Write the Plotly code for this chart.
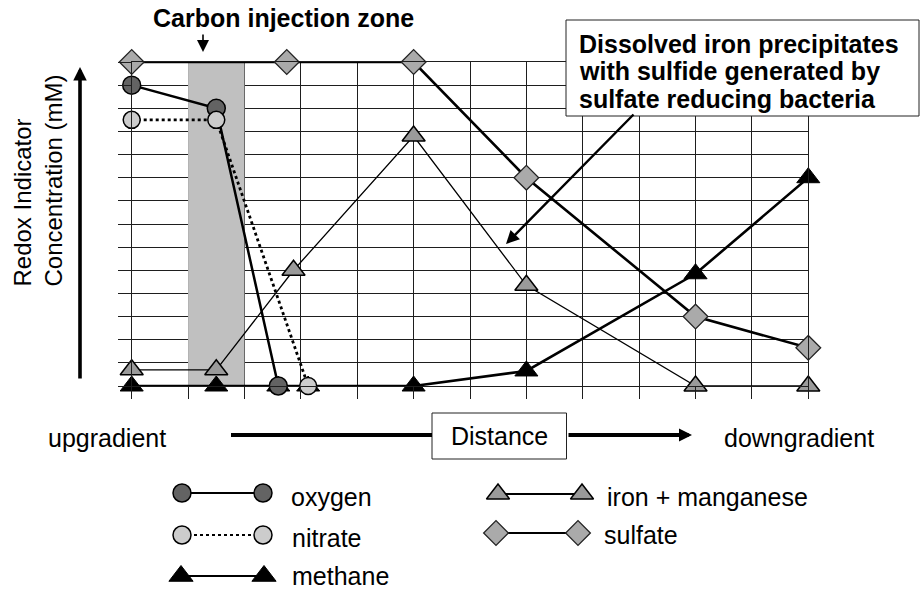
import plotly.graph_objects as go

W, H = 921, 593

# Sampling stations along the flow path (distance in grid units) and
# relative concentrations (grid units) of each redox indicator.
oxygen_x = [0, 1.5, 2.6]
oxygen_y = [13, 12, 0]

nitrate_x = [0, 1.5, 3.13]
nitrate_y = [11.5, 11.5, 0]

methane_x = [0, 1.5, 2.6, 3.13, 5, 7, 10, 12]
methane_y = [0, 0, 0, 0, 0, 0.65, 4.85, 9]

iron_x = [0, 1.5, 2.87, 5, 7, 10, 12]
iron_y = [0.7, 0.7, 5, 10.8, 4.35, 0, 0]

sulfate_x = [0, 2.75, 5, 7, 10, 12]
sulfate_y = [14, 14, 14, 9, 3, 1.65]

# Carbon injection zone (distance range)
zone_x = [1, 2]

X_MAX, Y_MAX = 12, 14

FONT = "Liberation Sans, Arial, sans-serif"
GRID = "#1e1e1e"


def fx(p):
    """pixel column -> paper x"""
    return p / W


def fy(p):
    """pixel row -> paper y"""
    return 1 - p / H


fig = go.Figure()

series = [
    dict(name="iron + manganese", x=iron_x, y=iron_y, line=dict(color="black", width=1.3),
         marker=dict(symbol="triangle-up", size=20, color="#9a9a9a", line=dict(color="black", width=1.5))),
    dict(name="methane", x=methane_x, y=methane_y, line=dict(color="black", width=2.6),
         marker=dict(symbol="triangle-up", size=20, color="black", line=dict(color="black", width=1))),
    dict(name="sulfate", x=sulfate_x, y=sulfate_y, line=dict(color="black", width=2.6),
         marker=dict(symbol="diamond", size=19, color="#aaaaaa", line=dict(color="#222222", width=1.3))),
    dict(name="oxygen", x=oxygen_x, y=oxygen_y, line=dict(color="black", width=2.5),
         marker=dict(symbol="circle", size=18, color="#636363", line=dict(color="black", width=1.5))),
    dict(name="nitrate", x=nitrate_x, y=nitrate_y, line=dict(color="black", width=2.8, dash="dot"),
         marker=dict(symbol="circle", size=17, color="#cccccc", line=dict(color="black", width=1.5))),
]
for s in series:
    fig.add_trace(go.Scatter(mode="lines+markers", cliponaxis=False, showlegend=False,
                             xaxis="x", yaxis="y", **s))

# Legend samples drawn on a pixel-space overlay axis
legend_rows = [
    dict(label="oxygen", xs=[182, 263], y=493, ty=497, tx=289,
         line=dict(color="black", width=2),
         marker=dict(symbol="circle", size=18, color="#636363", line=dict(color="black", width=1.5))),
    dict(label="nitrate", xs=[182, 263], y=535, ty=538, tx=290,
         line=dict(color="black", width=1.8, dash="dot"),
         marker=dict(symbol="circle", size=18, color="#cccccc", line=dict(color="black", width=1.5))),
    dict(label="methane", xs=[181, 264], y=576, ty=576, tx=290,
         line=dict(color="black", width=1.8),
         marker=dict(symbol="triangle-up", size=21, color="black", line=dict(color="black", width=1))),
    dict(label="iron + manganese", xs=[498, 582], y=494, ty=497, tx=605,
         line=dict(color="black", width=1.8),
         marker=dict(symbol="triangle-up", size=20, color="#9a9a9a", line=dict(color="black", width=1.5))),
    dict(label="sulfate", xs=[496, 578], y=533, ty=535, tx=602,
         line=dict(color="black", width=1.8),
         marker=dict(symbol="diamond", size=19, color="#aaaaaa", line=dict(color="#222222", width=1.3))),
]
annotations = []
for r in legend_rows:
    fig.add_trace(go.Scatter(x=r["xs"], y=[r["y"], r["y"]], mode="lines+markers",
                             line=r["line"], marker=r["marker"], cliponaxis=False,
                             showlegend=False, hoverinfo="skip", xaxis="x2", yaxis="y2"))
    annotations.append(dict(text=r["label"], x=fx(r["tx"]), y=fy(r["ty"]), xref="paper", yref="paper",
                            xanchor="left", yanchor="middle", showarrow=False,
                            font=dict(family=FONT, size=25, color="black")))

txt = dict(family=FONT, size=25, color="black")
vtxt = dict(family=FONT, size=24, color="black")
bold = dict(family=FONT, size=25, color="black", weight="bold")

annotations += [
    dict(text="Carbon injection zone", x=fx(283), y=fy(18), xref="paper", yref="paper",
         xanchor="center", yanchor="middle", showarrow=False, font=bold),
    # arrow down to the injection zone
    dict(text="", x=fx(203), y=fy(52), xref="paper", yref="paper", ax=0, ay=-19,
         axref="pixel", ayref="pixel", showarrow=True, arrowhead=2, arrowsize=1.5,
         arrowwidth=1.6, arrowcolor="black"),
    # y-axis title and arrow
    dict(text="Redox Indicator<br>Concentration (mM)", x=fx(37.5), y=fy(289), xref="paper", yref="paper",
         xanchor="center", yanchor="bottom", textangle=-90, align="left", showarrow=False, font=vtxt),
    dict(text="", x=fx(80), y=fy(67), xref="paper", yref="paper", ax=0, ay=313,
         axref="pixel", ayref="pixel", showarrow=True, arrowhead=2, arrowsize=0.75,
         arrowwidth=3.6, arrowcolor="black"),
    # distance axis
    dict(text="upgradient", x=fx(107), y=fy(438), xref="paper", yref="paper",
         xanchor="center", yanchor="middle", showarrow=False, font=txt),
    dict(text="downgradient", x=fx(799), y=fy(438), xref="paper", yref="paper",
         xanchor="center", yanchor="middle", showarrow=False, font=txt),
    dict(text="Distance", x=fx(499.5), y=fy(436), xref="paper", yref="paper",
         xanchor="center", yanchor="middle", showarrow=False, font=txt),
    dict(text="", x=fx(692), y=fy(435), xref="paper", yref="paper", ax=-125, ay=0,
         axref="pixel", ayref="pixel", showarrow=True, arrowhead=2, arrowsize=0.65,
         arrowwidth=4, arrowcolor="black"),
    # callout box text
    dict(text="Dissolved iron precipitates", x=fx(577), y=fy(43.5), xref="paper", yref="paper",
         xanchor="left", yanchor="middle", showarrow=False, font=bold),
    dict(text="with sulfide generated by", x=fx(577), y=fy(71), xref="paper", yref="paper",
         xanchor="left", yanchor="middle", showarrow=False, font=bold),
    dict(text="sulfate reducing bacteria", x=fx(577), y=fy(99), xref="paper", yref="paper",
         xanchor="left", yanchor="middle", showarrow=False, font=bold),
    dict(text="", x=fx(506), y=fy(244), xref="paper", yref="paper", ax=129, ay=-131,
         axref="pixel", ayref="pixel", showarrow=True, arrowhead=2, arrowsize=1.1,
         arrowwidth=2.4, arrowcolor="black"),
]

shapes = [
    # carbon injection zone band, above the grid but below the data
    dict(type="rect", xref="x", yref="y", x0=zone_x[0], x1=zone_x[1], y0=0, y1=Y_MAX,
         fillcolor="#c0c0c0", line=dict(width=0), layer="between"),
    # callout box
    dict(type="rect", xref="paper", yref="paper", x0=fx(566), x1=fx(919), y0=fy(116), y1=fy(20),
         fillcolor="white", line=dict(color="#222222", width=1), layer="above"),
    # distance box and leading line
    dict(type="rect", xref="paper", yref="paper", x0=fx(432), x1=fx(566.5), y0=fy(459), y1=fy(413),
         fillcolor="white", line=dict(color="#222222", width=1), layer="above"),
    dict(type="line", xref="paper", yref="paper", x0=fx(231), x1=fx(432), y0=fy(435), y1=fy(435),
         line=dict(color="black", width=4), layer="above"),
]

fig.update_layout(
    width=W, height=H, autosize=False,
    margin=dict(l=0, r=0, t=0, b=0),
    paper_bgcolor="white", plot_bgcolor="rgba(0,0,0,0)",
    showlegend=False,
    xaxis=dict(domain=[fx(131.7), fx(808.3)], range=[0, X_MAX], tick0=0, dtick=1,
               showgrid=True, gridcolor=GRID, gridwidth=1, zeroline=False,
               showline=True, linecolor=GRID, linewidth=1, mirror=True,
               ticks="outside", ticklen=12, tickcolor=GRID, tickwidth=1,
               showticklabels=False, fixedrange=True),
    yaxis=dict(domain=[fy(386), fy(62)], range=[0, Y_MAX], tick0=0, dtick=1,
               showgrid=True, gridcolor=GRID, gridwidth=1, zeroline=False,
               showline=True, linecolor=GRID, linewidth=1, mirror=True,
               ticks="outside", ticklen=13, tickcolor=GRID, tickwidth=1,
               showticklabels=False, fixedrange=True),
    xaxis2=dict(domain=[0, 1], range=[0, W], visible=False, anchor="y2", fixedrange=True),
    yaxis2=dict(domain=[0, 1], range=[H, 0], visible=False, anchor="x2", fixedrange=True),
    annotations=annotations,
    shapes=shapes,
)

fig.write_html("out.html")
